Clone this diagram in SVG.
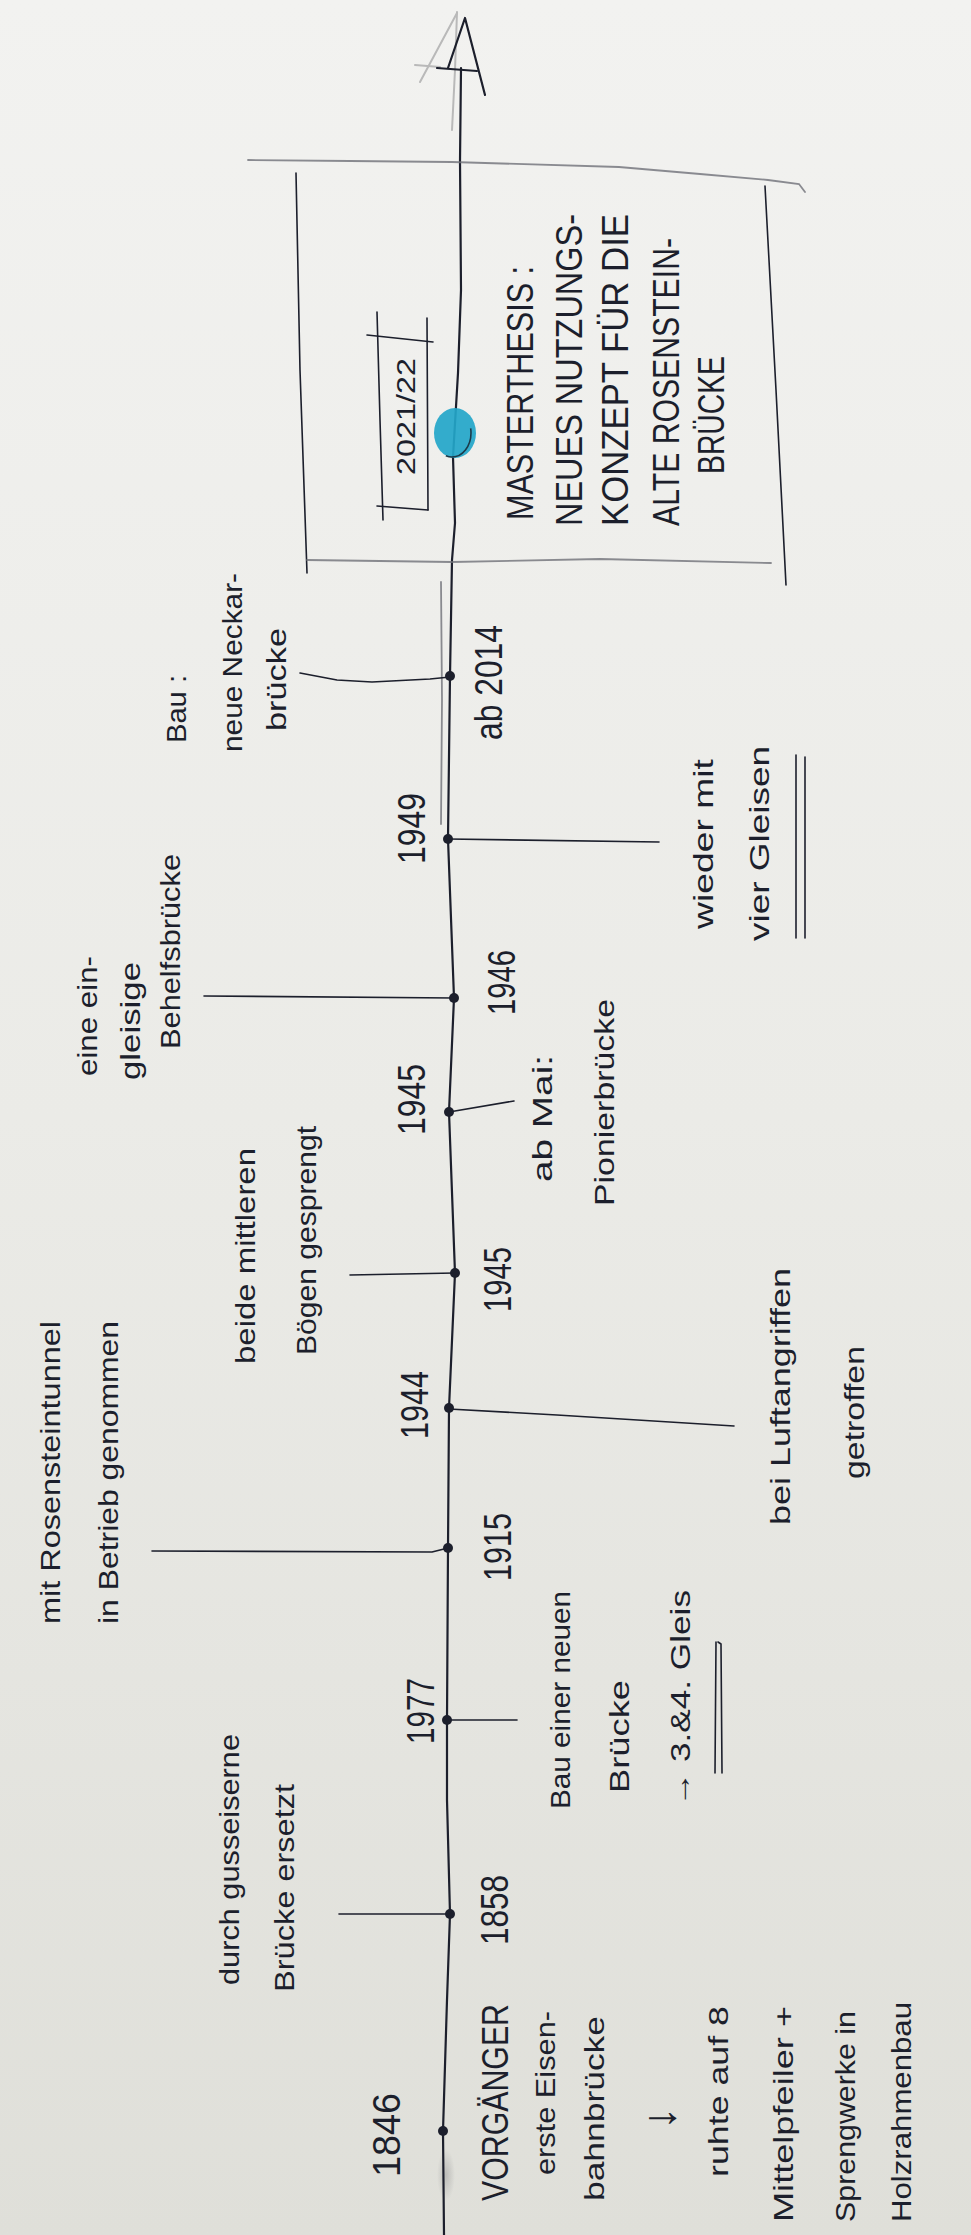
<svg xmlns="http://www.w3.org/2000/svg" width="971" height="2235" viewBox="0 0 971 2235">
  <defs>
    <linearGradient id="paper" x1="0" y1="0" x2="0" y2="1">
      <stop offset="0" stop-color="#f2f2f0"/>
      <stop offset="0.5" stop-color="#ebebe7"/>
      <stop offset="1" stop-color="#dfdfd9"/>
    </linearGradient>
    <radialGradient id="smudge">
      <stop offset="0" stop-color="#9a9a9a" stop-opacity="0.5"/>
      <stop offset="1" stop-color="#9a9a9a" stop-opacity="0"/>
    </radialGradient>
  </defs>
  <style>
    .ink { fill: none; stroke: #1c1f2c; stroke-width: 2.2; stroke-linecap: round; stroke-linejoin: round; }
    .thin { stroke-width: 1.6; }
    .pencil { fill: none; stroke: #6f7178; stroke-width: 1.8; stroke-linecap: round; opacity: 0.8; }
    .ghost { fill: none; stroke: #b9b9b9; stroke-width: 2; stroke-linecap: round; }
    .dot { fill: #1c1f2c; }
    .t { font-family: "Liberation Sans", Arial, sans-serif; fill: #1c1f2c; dominant-baseline: central; }
    .yr { font-size: 38px; }
    .d { font-size: 28px; }
    .c { font-size: 36px; }
    .s { font-size: 25px; }
    .arr { font-size: 46px; }
  </style>

  <rect width="971" height="2235" fill="url(#paper)"/>

  <!-- main time axis with its open arrowhead -->
  <g id="axis">
    <ellipse cx="446" cy="2175" rx="9" ry="26" fill="url(#smudge)"/>
    <polyline class="pencil" points="441,582 442,700 441,824"/>
    <polyline class="ghost" points="457,12 455,70 452,130"/>
    <polyline class="ghost" points="457,13 420,82"/>
    <polyline class="ghost" points="415,65 440,67"/>
    <polyline class="ink" points="444,2235 443,2131 447,2000 450,1914 447,1800 447,1720 448,1548 449,1408 455,1273 449,1112 454,998 448,839 450,676 452,560 455,523 453,457 458,373 461,290 460,161 461,68"/>
    <polyline class="ink" points="448,68 465,18 485,95"/>
    <polyline class="ink" points="437,68 477,71"/>
  </g>

  <!-- ticks from the axis to each note -->
  <g id="connectors">
    <polyline class="ink thin" points="450,1914 339,1914"/>
    <polyline class="ink thin" points="447,1720 517,1720"/>
    <polyline class="ink thin" points="448,1548 432,1552 152,1551"/>
    <polyline class="ink thin" points="449,1409 557,1415 734,1426"/>
    <polyline class="ink thin" points="455,1273 350,1275"/>
    <polyline class="ink thin" points="449,1112 514,1101"/>
    <polyline class="ink thin" points="454,998 204,996"/>
    <polyline class="ink thin" points="448,839 659,842"/>
    <polyline class="ink thin" points="450,677 430,679 372,682 337,680 300,673"/>
  </g>

  <g id="n1846">
    <circle class="dot" cx="443" cy="2131" r="5"/>
    <text class="t yr" transform="translate(387,2177) rotate(-90)" textLength="84" lengthAdjust="spacingAndGlyphs">1846</text>
    <text class="t c" transform="translate(495,2201) rotate(-90)" textLength="197" lengthAdjust="spacingAndGlyphs">VORGÄNGER</text>
    <text class="t d" transform="translate(545,2175) rotate(-90)" textLength="164" lengthAdjust="spacingAndGlyphs">erste Eisen-</text>
    <text class="t d" transform="translate(594,2201) rotate(-90)" textLength="185" lengthAdjust="spacingAndGlyphs">bahnbrücke</text>
    <text class="t arr" transform="translate(659,2130) rotate(-90)">↓</text>
    <text class="t d" transform="translate(718,2177) rotate(-90)" textLength="171" lengthAdjust="spacingAndGlyphs">ruhte auf 8</text>
    <text class="t d" transform="translate(783,2222) rotate(-90)" textLength="216" lengthAdjust="spacingAndGlyphs">Mittelpfeiler +</text>
    <text class="t d" transform="translate(845,2222) rotate(-90)" textLength="211" lengthAdjust="spacingAndGlyphs">Sprengwerke in</text>
    <text class="t d" transform="translate(901,2222) rotate(-90)" textLength="220" lengthAdjust="spacingAndGlyphs">Holzrahmenbau</text>
  </g>

  <g id="n1858">
    <circle class="dot" cx="450" cy="1914" r="5"/>
    <text class="t yr" transform="translate(495,1945) rotate(-90)" textLength="70" lengthAdjust="spacingAndGlyphs">1858</text>
    <text class="t d" transform="translate(229,1985) rotate(-90)" textLength="251" lengthAdjust="spacingAndGlyphs">durch gusseiserne</text>
    <text class="t d" transform="translate(284,1992) rotate(-90)" textLength="208" lengthAdjust="spacingAndGlyphs">Brücke ersetzt</text>
  </g>

  <g id="n1977">
    <circle class="dot" cx="447" cy="1720" r="5"/>
    <text class="t yr" transform="translate(421,1744) rotate(-90)" textLength="66" lengthAdjust="spacingAndGlyphs">1977</text>
    <text class="t d" transform="translate(560,1809) rotate(-90)" textLength="218" lengthAdjust="spacingAndGlyphs">Bau einer neuen</text>
    <text class="t d" transform="translate(619,1793) rotate(-90)" textLength="113" lengthAdjust="spacingAndGlyphs">Brücke</text>
    <text class="t d" transform="translate(680,1807) rotate(-90)" textLength="217" lengthAdjust="spacingAndGlyphs">→ 3.&amp;4. Gleis</text>
    <polyline class="ink thin" points="715,1773 716,1642"/>
    <polyline class="ink thin" points="722,1773 721,1644 718,1642"/>
  </g>

  <g id="n1915">
    <circle class="dot" cx="448" cy="1548" r="5"/>
    <text class="t yr" transform="translate(498,1581) rotate(-90)" textLength="68" lengthAdjust="spacingAndGlyphs">1915</text>
    <text class="t d" transform="translate(50,1624) rotate(-90)" textLength="303" lengthAdjust="spacingAndGlyphs">mit Rosensteintunnel</text>
    <text class="t d" transform="translate(108,1624) rotate(-90)" textLength="303" lengthAdjust="spacingAndGlyphs">in Betrieb genommen</text>
  </g>

  <g id="n1944">
    <circle class="dot" cx="449" cy="1408" r="5"/>
    <text class="t yr" transform="translate(415,1439) rotate(-90)" textLength="68" lengthAdjust="spacingAndGlyphs">1944</text>
    <text class="t d" transform="translate(780,1525) rotate(-90)" textLength="257" lengthAdjust="spacingAndGlyphs">bei Luftangriffen</text>
    <text class="t d" transform="translate(854,1479) rotate(-90)" textLength="133" lengthAdjust="spacingAndGlyphs">getroffen</text>
  </g>

  <g id="n1945a">
    <circle class="dot" cx="455" cy="1273" r="5"/>
    <text class="t yr" transform="translate(498,1312) rotate(-90)" textLength="65" lengthAdjust="spacingAndGlyphs">1945</text>
    <text class="t d" transform="translate(245,1364) rotate(-90)" textLength="216" lengthAdjust="spacingAndGlyphs">beide mittleren</text>
    <text class="t d" transform="translate(306,1355) rotate(-90)" textLength="229" lengthAdjust="spacingAndGlyphs">Bögen gesprengt</text>
  </g>

  <g id="n1945b">
    <circle class="dot" cx="449" cy="1112" r="5"/>
    <text class="t yr" transform="translate(412,1135) rotate(-90)" textLength="71" lengthAdjust="spacingAndGlyphs">1945</text>
    <text class="t d" transform="translate(542,1182) rotate(-90)" textLength="127" lengthAdjust="spacingAndGlyphs">ab Mai:</text>
    <text class="t d" transform="translate(604,1206) rotate(-90)" textLength="207" lengthAdjust="spacingAndGlyphs">Pionierbrücke</text>
  </g>

  <g id="n1946">
    <circle class="dot" cx="454" cy="998" r="5"/>
    <text class="t yr" transform="translate(502,1015) rotate(-90)" textLength="65" lengthAdjust="spacingAndGlyphs">1946</text>
    <text class="t d" transform="translate(87,1076) rotate(-90)" textLength="120" lengthAdjust="spacingAndGlyphs">eine ein-</text>
    <text class="t d" transform="translate(130,1080) rotate(-90)" textLength="118" lengthAdjust="spacingAndGlyphs">gleisige</text>
    <text class="t d" transform="translate(170,1049) rotate(-90)" textLength="195" lengthAdjust="spacingAndGlyphs">Behelfsbrücke</text>
  </g>

  <g id="n1949">
    <circle class="dot" cx="448" cy="839" r="5"/>
    <text class="t yr" transform="translate(412,864) rotate(-90)" textLength="71" lengthAdjust="spacingAndGlyphs">1949</text>
    <text class="t d" transform="translate(703,929) rotate(-90)" textLength="170" lengthAdjust="spacingAndGlyphs">wieder mit</text>
    <text class="t d" transform="translate(759,941) rotate(-90)" textLength="195" lengthAdjust="spacingAndGlyphs">vier Gleisen</text>
    <polyline class="ink thin" points="796,938 796,755"/>
    <polyline class="ink thin" points="805,938 805,757"/>
  </g>

  <g id="n2014">
    <circle class="dot" cx="450" cy="676" r="5"/>
    <text class="t yr" transform="translate(489,740) rotate(-90)" textLength="115" lengthAdjust="spacingAndGlyphs">ab 2014</text>
    <text class="t d" transform="translate(176,743) rotate(-90)" textLength="68" lengthAdjust="spacingAndGlyphs">Bau :</text>
    <text class="t d" transform="translate(232,752) rotate(-90)" textLength="179" lengthAdjust="spacingAndGlyphs">neue Neckar-</text>
    <text class="t d" transform="translate(276,731) rotate(-90)" textLength="103" lengthAdjust="spacingAndGlyphs">brücke</text>
  </g>

  <!-- framed present-day section -->
  <g id="n2021">
    <polyline class="pencil" points="248,160 350,161 452,162 619,167 700,174 768,180 799,184 805,192"/>
    <polyline class="ink thin" points="296,173 300,370 307,573"/>
    <polyline class="ink thin" points="765,186 776,390 786,585"/>
    <polyline class="pencil" points="307,560 452,562 600,559 771,563"/>
    <polyline class="ink thin" points="377,312 380,420 383,520"/>
    <polyline class="ink thin" points="427,318 428,510"/>
    <polyline class="ink thin" points="367,335 433,342"/>
    <polyline class="ink thin" points="377,506 428,510"/>
    <text class="t s" transform="translate(406,475) rotate(-90)" textLength="117" lengthAdjust="spacingAndGlyphs">2021/22</text>
    <ellipse cx="455" cy="433" rx="21" ry="25" fill="#23a6c9" opacity="0.92"/>
    <ellipse cx="452" cy="433" rx="19" ry="24" fill="none" stroke="#1c3a4a" stroke-width="1.6" stroke-dasharray="40 90"/>
    <text class="t c" transform="translate(520,520) rotate(-90)" textLength="254" lengthAdjust="spacingAndGlyphs">MASTERTHESIS :</text>
    <text class="t c" transform="translate(569,526) rotate(-90)" textLength="312" lengthAdjust="spacingAndGlyphs">NEUES NUTZUNGS-</text>
    <text class="t c" transform="translate(615,526) rotate(-90)" textLength="312" lengthAdjust="spacingAndGlyphs">KONZEPT FÜR DIE</text>
    <text class="t c" transform="translate(666,526) rotate(-90)" textLength="288" lengthAdjust="spacingAndGlyphs">ALTE ROSENSTEIN-</text>
    <text class="t c" transform="translate(711,474) rotate(-90)" textLength="118" lengthAdjust="spacingAndGlyphs">BRÜCKE</text>
  </g>
</svg>
